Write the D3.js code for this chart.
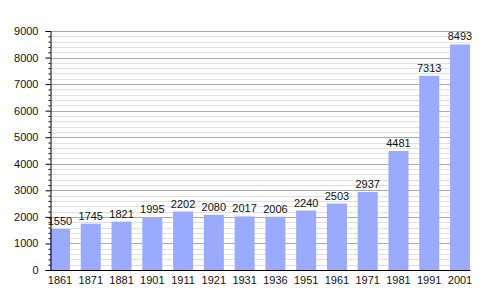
<!DOCTYPE html>
<html>
<head>
<meta charset="utf-8">
<script src="https://cdn.jsdelivr.net/npm/d3@7"></script>
<style>
  body { margin: 0; background: #fff; }
  text { font-family: "Liberation Sans", Arial, sans-serif; }
</style>
</head>
<body>
<div id="chart"></div>
<script>
// census years and population
const years = ['1861', '1871', '1881', '1901', '1911', '1921', '1931', '1936', '1951', '1961', '1971', '1981', '1991', '2001'];
const population = [1550, 1745, 1821, 1995, 2202, 2080, 2017, 2006, 2240, 2503, 2937, 4481, 7313, 8493];
const yTicks = [0, 1000, 2000, 3000, 4000, 5000, 6000, 7000, 8000, 9000];

const width = 500, height = 300;
const mLeft = 50, mRight = 470, mTop = 31, mBottom = 270;

const svg = d3.select('#chart').append('svg')
    .attr('width', width)
    .attr('height', height);

const x = d3.scaleBand()
    .domain(years)
    .range([mLeft, mRight])
    .paddingInner(0.35)
    .paddingOuter(0);

const y = d3.scaleLinear()
    .domain([0, 9000])
    .range([mBottom, mTop]);

const minorTicks = d3.range(200, 9000, 200).filter(d => d % 1000 !== 0);

// minor grid every 200
svg.selectAll('line.minor')
    .data(minorTicks)
    .enter().append('line')
    .attr('class', 'minor')
    .attr('x1', mLeft).attr('x2', mRight)
    .attr('y1', d => Math.round(y(d)) + 0.5).attr('y2', d => Math.round(y(d)) + 0.5)
    .attr('stroke', '#e0e0e0');

// major grid
svg.selectAll('line.major')
    .data(yTicks.slice(1))
    .enter().append('line')
    .attr('class', 'major')
    .attr('x1', mLeft).attr('x2', mRight)
    .attr('y1', d => Math.round(y(d)) + 0.5).attr('y2', d => Math.round(y(d)) + 0.5)
    .attr('stroke', '#aaa');

// bars
svg.selectAll('rect.bar')
    .data(population)
    .enter().append('rect')
    .attr('class', 'bar')
    .attr('x', (d, i) => x(years[i]))
    .attr('y', d => y(d))
    .attr('width', x.bandwidth())
    .attr('height', d => mBottom - y(d))
    .attr('fill', '#99aaff');

// value labels
svg.selectAll('text.value')
    .data(population)
    .enter().append('text')
    .attr('class', 'value')
    .attr('x', (d, i) => x(years[i]) + x.bandwidth() / 2)
    .attr('y', d => y(d) - 4)
    .attr('text-anchor', 'middle')
    .style('font-size', '11px')
    .attr('fill', '#111')
    .text(d => d);

// y axis
const yAxis = svg.append('g')
    .attr('transform', `translate(${mLeft + 0.5},0)`)
    .call(d3.axisLeft(y).tickValues(yTicks).tickSize(5).tickPadding(7).tickFormat(d3.format('d')));
yAxis.select('.domain').attr('stroke', '#000');
yAxis.selectAll('text').style('font-size', '11px').attr('fill', '#111');

// minor ticks
svg.append('g')
    .attr('transform', `translate(${mLeft + 0.5},0)`)
    .call(d3.axisLeft(y).tickValues(minorTicks).tickSize(2).tickFormat(''))
    .select('.domain').remove();

// x axis
const xAxis = svg.append('g')
    .attr('transform', `translate(0,${mBottom})`)
    .call(d3.axisBottom(x).tickSize(0).tickPadding(6));
xAxis.select('.domain').attr('stroke', '#000');
xAxis.selectAll('text').style('font-size', '11px').attr('fill', '#111');
</script>
</body>
</html>
